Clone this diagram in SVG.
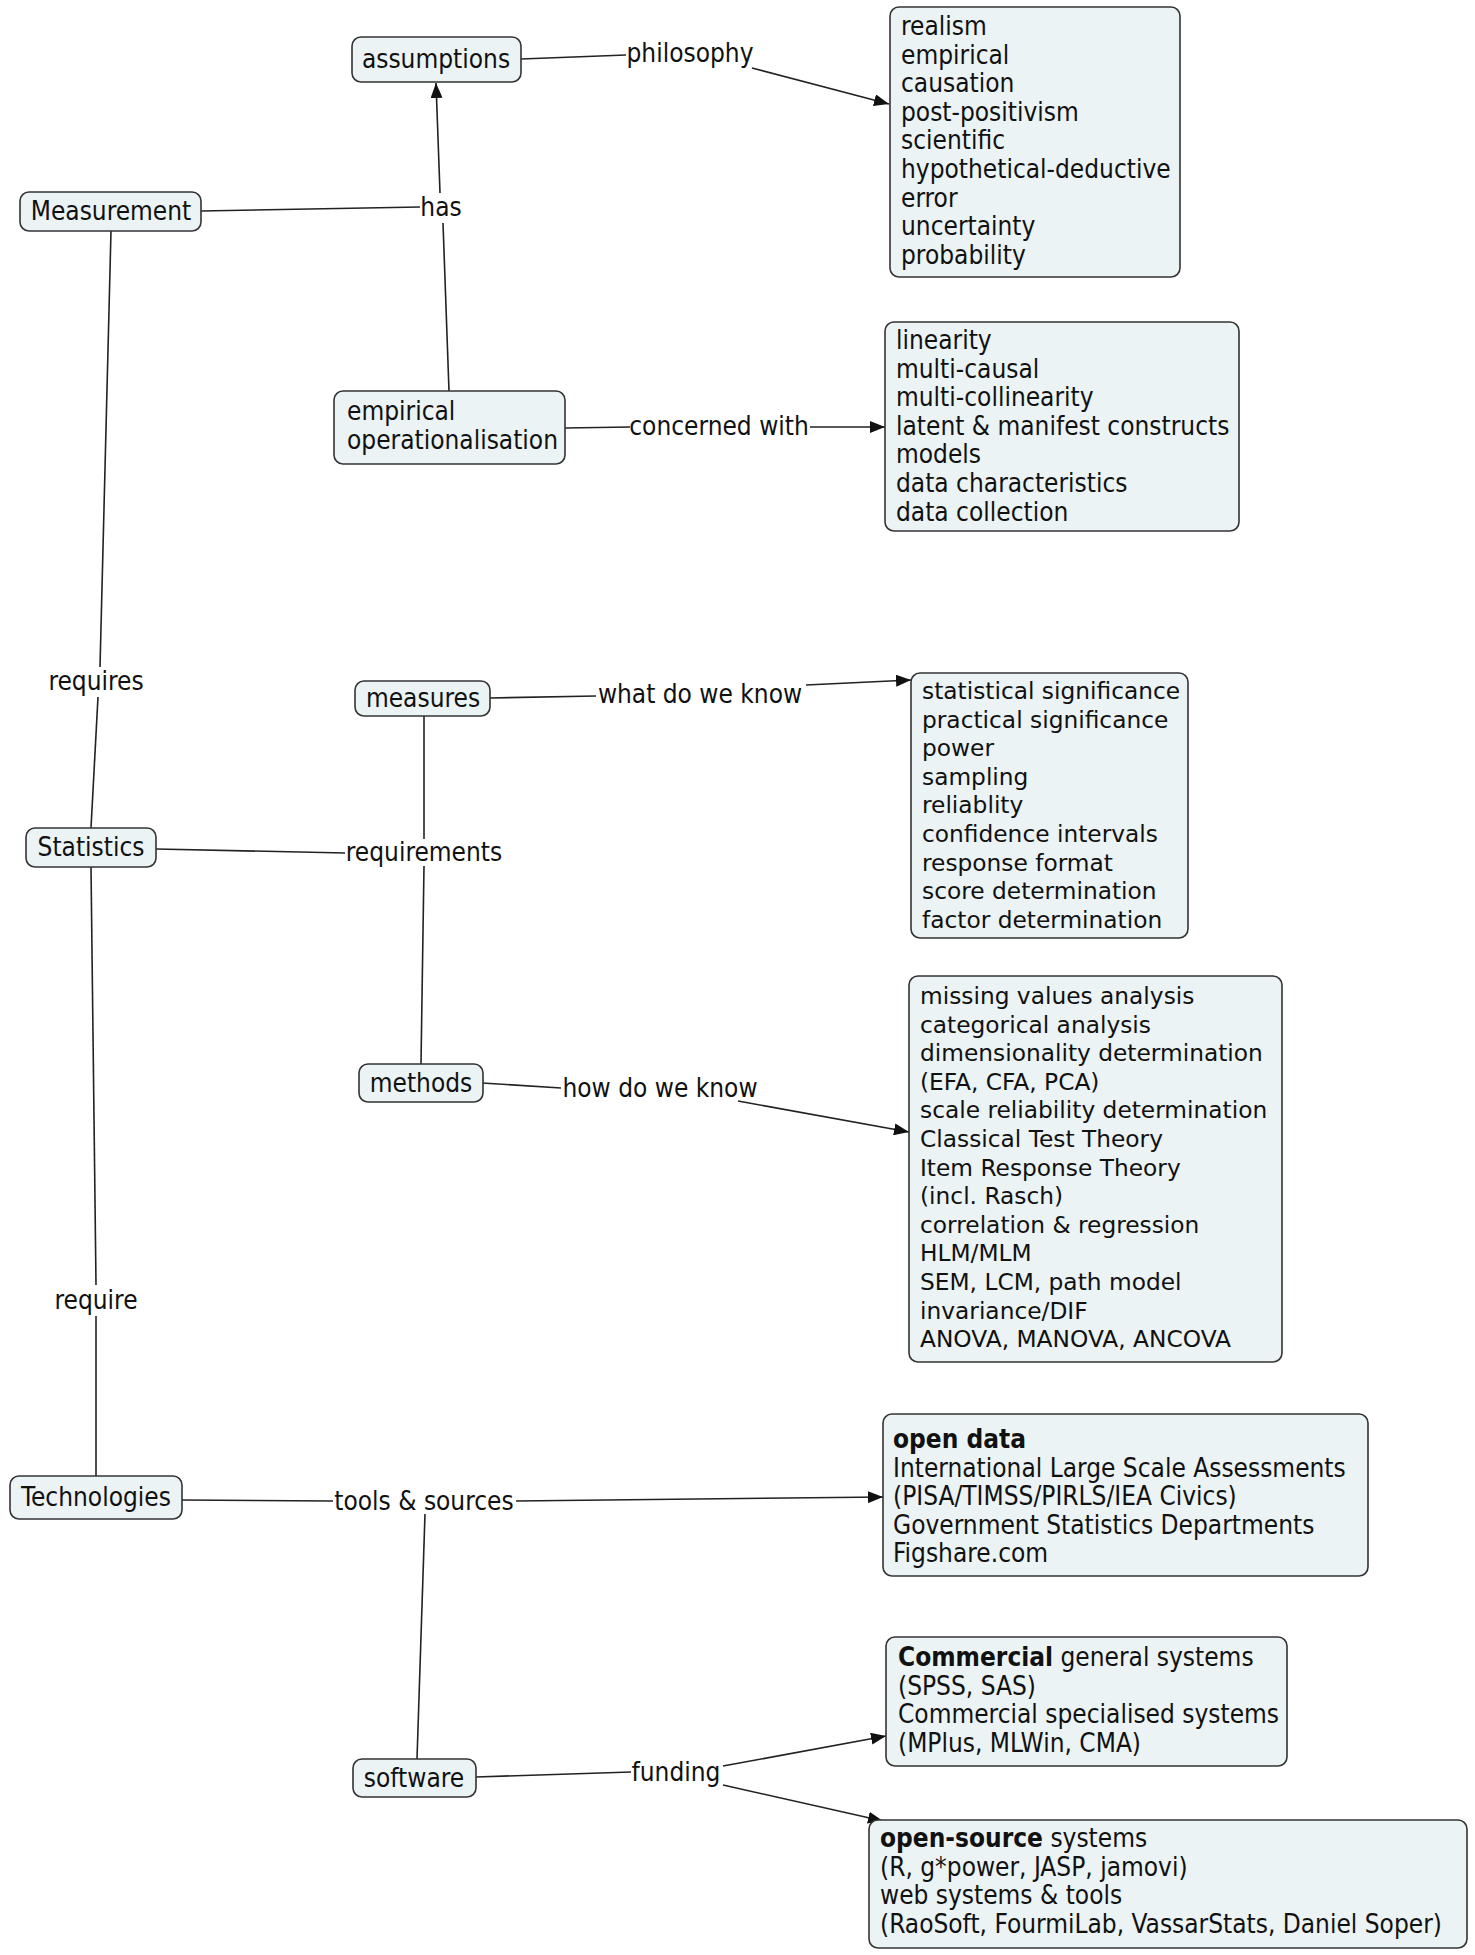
<svg xmlns="http://www.w3.org/2000/svg" width="1475" height="1955" viewBox="0 0 1475 1955">
<style>
.box{fill:#EBF3F5;stroke:#333;stroke-width:1.6}
.t{font-family:'DejaVu Sans Condensed','DejaVu Sans',sans-serif;font-size:26px;fill:#111}
.v{font-family:'DejaVu Sans',Verdana,sans-serif;font-size:23.3px;fill:#111}
.m{text-anchor:middle}
.b{font-weight:bold}
.c{stroke:#222;stroke-width:1.6;fill:none}
.a{stroke:#222;stroke-width:1.6;fill:none;marker-end:url(#arr)}
</style>
<defs>
<marker id="arr" markerUnits="userSpaceOnUse" markerWidth="16" markerHeight="12" refX="15" refY="6" orient="auto">
<path d="M0,0 L15,6 L0,12 z" fill="#111"/>
</marker>
</defs>
<rect width="1475" height="1955" fill="#fff"/>
<g id="connectors">
<line class="c" x1="521" y1="59" x2="626" y2="55"/>
<line class="a" x1="752" y1="68" x2="889" y2="104"/>
<line class="c" x1="201" y1="211" x2="420" y2="207"/>
<line class="a" x1="440" y1="193" x2="436" y2="83"/>
<line class="c" x1="449" y1="391" x2="443" y2="223"/>
<line class="c" x1="565" y1="428" x2="630" y2="427"/>
<line class="a" x1="810" y1="427" x2="885" y2="427"/>
<line class="c" x1="111" y1="231" x2="100" y2="667"/>
<line class="c" x1="98" y1="697" x2="91" y2="828"/>
<line class="c" x1="156" y1="849" x2="345" y2="853"/>
<line class="c" x1="424" y1="716" x2="424" y2="839"/>
<line class="c" x1="424" y1="866" x2="421" y2="1064"/>
<line class="c" x1="490" y1="698" x2="596" y2="696"/>
<line class="a" x1="806" y1="685" x2="911" y2="680"/>
<line class="c" x1="482" y1="1083" x2="561" y2="1088"/>
<line class="a" x1="738" y1="1101" x2="909" y2="1132"/>
<line class="c" x1="91" y1="867" x2="96" y2="1285"/>
<line class="c" x1="96" y1="1316" x2="96" y2="1476"/>
<line class="c" x1="182" y1="1500" x2="333" y2="1501"/>
<line class="a" x1="516" y1="1501" x2="883" y2="1497"/>
<line class="c" x1="417" y1="1759" x2="425" y2="1514"/>
<line class="c" x1="476" y1="1777" x2="631" y2="1772"/>
<line class="a" x1="723" y1="1766" x2="886" y2="1736"/>
<line class="a" x1="723" y1="1785" x2="883" y2="1821"/>
</g>
<g id="link-labels">
<text class="t m" x="690" y="62">philosophy</text>
<text class="t m" x="441" y="216">has</text>
<text class="t m" x="719" y="435">concerned with</text>
<text class="t m" x="96" y="690">requires</text>
<text class="t m" x="700" y="703">what do we know</text>
<text class="t m" x="424" y="861">requirements</text>
<text class="t m" x="660" y="1097">how do we know</text>
<text class="t m" x="96" y="1309">require</text>
<text class="t m" x="424" y="1510">tools &amp; sources</text>
<text class="t m" x="676" y="1781">funding</text>
</g>
<g id="n-assumptions">
<rect class="box" x="352" y="37" width="169" height="45" rx="9"/>
<text class="t m" x="436" y="68">assumptions</text>
</g>
<g id="n-measurement">
<rect class="box" x="20" y="192" width="181" height="39" rx="9"/>
<text class="t m" x="111" y="220">Measurement</text>
</g>
<g id="n-empirical">
<rect class="box" x="334" y="391" width="231" height="73" rx="9"/>
<text class="t" x="347" y="420">empirical<tspan x="347" dy="28.6">operationalisation</tspan></text>
</g>
<g id="n-philosophy-list">
<rect class="box" x="890" y="7" width="290" height="270" rx="9"/>
<text class="t" x="901" y="35">realism<tspan x="901" dy="28.6">empirical</tspan><tspan x="901" dy="28.6">causation</tspan><tspan x="901" dy="28.6">post-positivism</tspan><tspan x="901" dy="28.6">scientific</tspan><tspan x="901" dy="28.6">hypothetical-deductive</tspan><tspan x="901" dy="28.6">error</tspan><tspan x="901" dy="28.6">uncertainty</tspan><tspan x="901" dy="28.6">probability</tspan></text>
</g>
<g id="n-concerned-list">
<rect class="box" x="885" y="322" width="354" height="209" rx="9"/>
<text class="t" x="896" y="349">linearity<tspan x="896" dy="28.6">multi-causal</tspan><tspan x="896" dy="28.6">multi-collinearity</tspan><tspan x="896" dy="28.6">latent &amp; manifest constructs</tspan><tspan x="896" dy="28.6">models</tspan><tspan x="896" dy="28.6">data characteristics</tspan><tspan x="896" dy="28.6">data collection</tspan></text>
</g>
<g id="n-measures">
<rect class="box" x="355" y="681" width="135" height="35" rx="9"/>
<text class="t m" x="423" y="707">measures</text>
</g>
<g id="n-statistics">
<rect class="box" x="26" y="828" width="130" height="39" rx="9"/>
<text class="t m" x="91" y="856">Statistics</text>
</g>
<g id="n-methods">
<rect class="box" x="359" y="1064" width="124" height="38" rx="9"/>
<text class="t m" x="421" y="1092">methods</text>
</g>
<g id="n-measures-list">
<rect class="box" x="911" y="673" width="277" height="265" rx="9"/>
<text class="v" x="922" y="699">statistical significance<tspan x="922" dy="28.6">practical significance</tspan><tspan x="922" dy="28.6">power</tspan><tspan x="922" dy="28.6">sampling</tspan><tspan x="922" dy="28.6">reliablity</tspan><tspan x="922" dy="28.6">confidence intervals</tspan><tspan x="922" dy="28.6">response format</tspan><tspan x="922" dy="28.6">score determination</tspan><tspan x="922" dy="28.6">factor determination</tspan></text>
</g>
<g id="n-methods-list">
<rect class="box" x="909" y="976" width="373" height="386" rx="9"/>
<text class="v" x="920" y="1004">missing values analysis<tspan x="920" dy="28.6">categorical analysis</tspan><tspan x="920" dy="28.6">dimensionality determination</tspan><tspan x="920" dy="28.6">(EFA, CFA, PCA)</tspan><tspan x="920" dy="28.6">scale reliability determination</tspan><tspan x="920" dy="28.6">Classical Test Theory</tspan><tspan x="920" dy="28.6">Item Response Theory</tspan><tspan x="920" dy="28.6">(incl. Rasch)</tspan><tspan x="920" dy="28.6">correlation &amp; regression</tspan><tspan x="920" dy="28.6">HLM/MLM</tspan><tspan x="920" dy="28.6">SEM, LCM, path model</tspan><tspan x="920" dy="28.6">invariance/DIF</tspan><tspan x="920" dy="28.6">ANOVA, MANOVA, ANCOVA</tspan></text>
</g>
<g id="n-technologies">
<rect class="box" x="10" y="1476" width="172" height="43" rx="9"/>
<text class="t m" x="96" y="1506">Technologies</text>
</g>
<g id="n-open-data">
<rect class="box" x="883" y="1414" width="485" height="162" rx="9"/>
<text class="t" x="893" y="1448"><tspan class="b">open data</tspan><tspan x="893" dy="28.6">International Large Scale Assessments</tspan><tspan x="893" dy="28.6">(PISA/TIMSS/PIRLS/IEA Civics)</tspan><tspan x="893" dy="28.6">Government Statistics Departments</tspan><tspan x="893" dy="28.6">Figshare.com</tspan></text>
</g>
<g id="n-software">
<rect class="box" x="353" y="1759" width="123" height="38" rx="9"/>
<text class="t m" x="414" y="1787">software</text>
</g>
<g id="n-commercial">
<rect class="box" x="886" y="1637" width="401" height="129" rx="9"/>
<text class="t" x="898" y="1666"><tspan class="b">Commercial</tspan> general systems<tspan x="898" dy="28.6">(SPSS, SAS)</tspan><tspan x="898" dy="28.6">Commercial specialised systems</tspan><tspan x="898" dy="28.6">(MPlus, MLWin, CMA)</tspan></text>
</g>
<g id="n-open-source">
<rect class="box" x="869" y="1820" width="598" height="128" rx="9"/>
<text class="t" x="880" y="1847"><tspan class="b">open-source</tspan> systems<tspan x="880" dy="28.6">(R, g*power, JASP, jamovi)</tspan><tspan x="880" dy="28.6">web systems &amp; tools</tspan><tspan x="880" dy="28.6">(RaoSoft, FourmiLab, VassarStats, Daniel Soper)</tspan></text>
</g>
</svg>
